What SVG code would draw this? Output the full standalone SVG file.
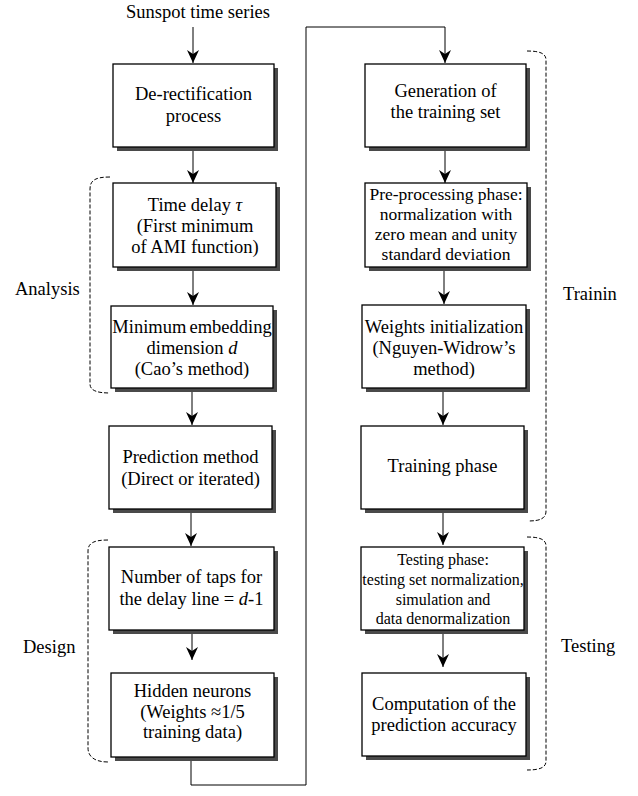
<svg xmlns="http://www.w3.org/2000/svg" width="638" height="796" viewBox="0 0 638 796">
<style>
text{font-family:"Liberation Serif","Times New Roman",serif;font-size:18.5px;fill:#000}
.c{text-anchor:middle}
.s{font-size:17.5px}
.t{font-size:16px}
.box{fill:#fff;stroke:#000;stroke-width:1.3}
.sh{fill:#4a4a4a}
.ln{fill:none;stroke:#000;stroke-width:1}
.br{fill:none;stroke:#000;stroke-width:1;stroke-dasharray:4 2}
.i{font-style:italic}
</style>
<defs>
<marker id="ah" viewBox="0 0 13 12" refX="13" refY="6" markerWidth="13" markerHeight="12" orient="auto" markerUnits="userSpaceOnUse">
<path d="M0,0 L13,6 L0,12 L4,6 z" fill="#000"/>
</marker>
</defs>
<rect width="638" height="796" fill="#fff"/>

<text id="start" class="c" x="198" y="18">Sunspot time series</text>

<g id="connectors">
<line class="ln" x1="193" y1="27" x2="193" y2="63" marker-end="url(#ah)"/>
<line class="ln" x1="193" y1="147" x2="193" y2="183" marker-end="url(#ah)"/>
<line class="ln" x1="193" y1="267" x2="193" y2="305" marker-end="url(#ah)"/>
<line class="ln" x1="192" y1="388" x2="192" y2="425" marker-end="url(#ah)"/>
<line class="ln" x1="191" y1="509" x2="191" y2="546" marker-end="url(#ah)"/>
<line class="ln" x1="192" y1="634" x2="192" y2="660" marker-end="url(#ah)"/>
<polyline class="ln" points="191,757 191,785 306,785 306,27 445,27 445,63" marker-end="url(#ah)"/>
<line class="ln" x1="445" y1="147" x2="445" y2="183" marker-end="url(#ah)"/>
<line class="ln" x1="444" y1="267" x2="444" y2="304" marker-end="url(#ah)"/>
<line class="ln" x1="443" y1="388" x2="443" y2="425" marker-end="url(#ah)"/>
<line class="ln" x1="443" y1="509" x2="443" y2="545" marker-end="url(#ah)"/>
<line class="ln" x1="443" y1="634" x2="443" y2="667" marker-end="url(#ah)"/>
</g>

<g id="brackets">
<path class="br" d="M110,177 C96,177 90,180 90,189 V384 C90,390 96,393 110,393"/>
<path class="br" d="M108,540 C94,540 88,543 88,551 V748 C88,756 94,762 108,762"/>
<path class="br" d="M527,51 C541,51 546,54 546,60 V511 C546,518 541,521 528,521"/>
<path class="br" d="M527,537 C541,537 546,540 546,546 V761 C546,767 541,770 527,770"/>
</g>

<text id="lbl-analysis" x="15" y="295">Analysis</text>
<text id="lbl-design" x="23" y="653">Design</text>
<text id="lbl-training" x="563" y="300">Trainin</text>
<text id="lbl-testing" x="561" y="652">Testing</text>

<g id="n1">
<rect class="sh" x="117" y="68" width="161" height="83"/>
<rect class="box" x="113" y="64" width="161" height="83"/>
<text class="c" x="193.5" y="100">De-rectification</text>
<text class="c" x="193.5" y="122">process</text>
</g>

<g id="n2">
<rect class="sh" x="117" y="187" width="163" height="84"/>
<rect class="box" x="113" y="183" width="163" height="84"/>
<text class="c" x="195" y="211">Time delay <tspan class="i">τ</tspan></text>
<text class="c" x="195" y="232">(First minimum</text>
<text class="c" x="195" y="253">of AMI function)</text>
</g>

<g id="n3">
<rect class="sh" x="115" y="310" width="162" height="82"/>
<rect class="box" x="111" y="306" width="162" height="82"/>
<text class="c" x="192" y="333" word-spacing="-1.5">Minimum embedding</text>
<text class="c" x="192" y="354">dimension <tspan class="i">d</tspan></text>
<text class="c" x="192" y="375">(Cao’s method)</text>
</g>

<g id="n4">
<rect class="sh" x="113" y="430" width="163" height="83"/>
<rect class="box" x="109" y="426" width="163" height="83"/>
<text class="c" x="190.5" y="463">Prediction method</text>
<text class="c" x="190.5" y="485">(Direct or iterated)</text>
</g>

<g id="n5">
<rect class="sh" x="113" y="551" width="165" height="83"/>
<rect class="box" x="109" y="547" width="165" height="83"/>
<text class="c" x="191.5" y="583">Number of taps for</text>
<text class="c" x="191.5" y="605">the delay line = <tspan class="i">d</tspan>-1</text>
</g>

<g id="n6">
<rect class="sh" x="115" y="677" width="163" height="84"/>
<rect class="box" x="111" y="673" width="163" height="84"/>
<text class="c" x="192.5" y="697">Hidden neurons</text>
<text class="c" x="192.5" y="718">(Weights ≈1/5</text>
<text class="c" x="192.5" y="738">training data)</text>
</g>

<g id="n7">
<rect class="sh" x="369" y="68" width="161" height="83"/>
<rect class="box" x="365" y="64" width="161" height="83"/>
<text class="c" x="445.5" y="97">Generation of</text>
<text class="c" x="445.5" y="118">the training set</text>
</g>

<g id="n8">
<rect class="sh" x="369" y="187" width="162" height="84"/>
<rect class="box" x="365" y="183" width="162" height="84"/>
<text class="c s" x="446" y="200">Pre-processing phase:</text>
<text class="c s" x="446" y="220">normalization with</text>
<text class="c s" x="446" y="240">zero mean and unity</text>
<text class="c s" x="446" y="260">standard deviation</text>
</g>

<g id="n9">
<rect class="sh" x="366" y="309" width="164" height="83"/>
<rect class="box" x="362" y="305" width="164" height="83"/>
<text class="c" x="444" y="333">Weights initialization</text>
<text class="c" x="444" y="354">(Nguyen-Widrow’s</text>
<text class="c" x="444" y="375">method)</text>
</g>

<g id="n10">
<rect class="sh" x="365" y="430" width="163" height="83"/>
<rect class="box" x="361" y="426" width="163" height="83"/>
<text class="c" x="442.5" y="472">Training phase</text>
</g>

<g id="n11">
<rect class="sh" x="365" y="551" width="163" height="83"/>
<rect class="box" x="361" y="547" width="163" height="83"/>
<text class="c t" x="443" y="565">Testing phase:</text>
<text class="c t" x="443" y="585">testing set normalization,</text>
<text class="c t" x="443" y="605">simulation and</text>
<text class="c t" x="443" y="624">data denormalization</text>
</g>

<g id="n12">
<rect class="sh" x="366" y="677" width="164" height="83"/>
<rect class="box" x="362" y="673" width="164" height="83"/>
<text class="c" x="444" y="710">Computation of the</text>
<text class="c" x="444" y="731">prediction accuracy</text>
</g>
</svg>
